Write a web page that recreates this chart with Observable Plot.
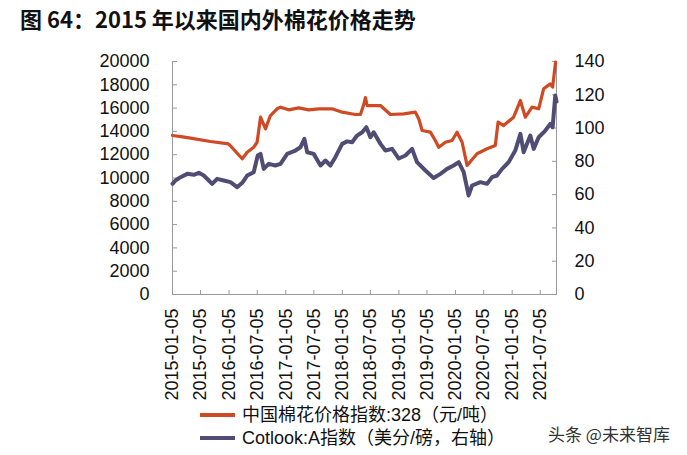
<!DOCTYPE html>
<html><head><meta charset="utf-8">
<script src="https://cdn.jsdelivr.net/npm/d3@7"></script>
<script src="https://cdn.jsdelivr.net/npm/@observablehq/plot@0.6"></script>
<style>
body{margin:0;width:687px;height:455px;position:relative;background:#fff;overflow:hidden;font-family:"Liberation Sans","Noto Sans CJK SC",sans-serif;}
#title{position:absolute;left:20px;top:2px;font-weight:bold;font-size:22px;font-family:"Noto Sans CJK SC",sans-serif;color:#111;white-space:nowrap}
#chart{position:absolute;left:0;top:40px}
.leg{position:absolute;left:200px;font-size:18px;color:#111;display:flex;align-items:center;white-space:nowrap;line-height:22px}
.sw{width:35px;height:3.5px;margin-right:7px}
#wm{position:absolute;left:548px;top:421px;font-size:17px;font-family:"Noto Sans CJK SC",sans-serif;color:#333;white-space:nowrap}
</style></head>
<body>
<div id="title">图 64：2015 年以来国内外棉花价格走势</div>
<div id="chart"></div>
<div class="leg" style="top:404px"><div class="sw" style="background:#CF4A23"></div><span>中国棉花价格指数:328（元/吨）</span></div>
<div class="leg" style="top:427px"><div class="sw" style="background:#514C74"></div><span>Cotlook:A指数（美分/磅，右轴）</span></div>
<div id="wm">头条 @未来智库</div>
<script>
const chinaDates = ["2015-01-05","2015-03-01","2015-05-01","2015-09-07","2016-01-01","2016-01-25","2016-03-30","2016-05-01","2016-06-12","2016-07-04","2016-07-26","2016-08-27","2016-09-28","2016-11-10","2016-12-02","2017-01-24","2017-03-30","2017-06-02","2017-08-06","2017-10-31","2018-01-04","2018-03-30","2018-05-02","2018-05-23","2018-06-03","2018-06-14","2018-09-08","2018-11-11","2019-02-05","2019-04-21","2019-05-13","2019-06-04","2019-07-27","2019-08-28","2019-09-19","2019-11-01","2019-12-14","2020-01-15","2020-02-17","2020-03-20","2020-05-23","2020-07-27","2020-09-18","2020-10-06","2020-11-11","2021-01-14","2021-02-27","2021-03-31","2021-05-13","2021-06-25","2021-07-27","2021-09-08","2021-09-23","2021-10-12"];
const chinaValues = [13650,13550,13420,13130,12930,12600,11650,12210,12640,13070,15220,14220,15360,15940,16080,15850,16020,15850,15940,15940,15650,15450,15450,16300,16900,16220,16220,15450,15510,15650,15080,14080,13940,13220,12640,13070,13220,13930,13070,11070,12080,12510,12790,14790,14500,15220,16650,15220,16080,15940,17660,18080,17800,19950];

const cotlookDates = ["2015-01-05","2015-01-24","2015-02-26","2015-04-10","2015-05-22","2015-06-24","2015-07-26","2015-09-18","2015-10-20","2015-12-02","2016-01-14","2016-02-26","2016-03-30","2016-05-01","2016-06-12","2016-07-08","2016-07-26","2016-08-16","2016-09-17","2016-10-30","2016-12-02","2017-01-14","2017-03-08","2017-04-10","2017-05-05","2017-05-23","2017-07-04","2017-08-17","2017-09-18","2017-10-20","2017-11-21","2018-01-04","2018-02-05","2018-03-09","2018-04-10","2018-05-13","2018-06-09","2018-07-05","2018-07-26","2018-09-08","2018-10-10","2018-11-22","2019-01-04","2019-02-16","2019-03-31","2019-05-02","2019-06-25","2019-08-17","2019-09-30","2019-11-12","2019-12-24","2020-01-26","2020-02-27","2020-03-30","2020-04-21","2020-06-14","2020-07-27","2020-08-28","2020-09-29","2020-11-01","2020-12-13","2021-01-25","2021-02-27","2021-03-20","2021-05-02","2021-05-24","2021-06-25","2021-08-07","2021-09-08","2021-09-23","2021-10-10","2021-10-18"];
const cotlookValues = [66.5,68.5,70.5,72.5,71.9,73.1,71.5,66.5,69.5,68.5,67.5,64.5,67.1,71.5,73.5,83.5,84.5,75.5,78.5,77.5,78.5,84.5,86.5,88.5,93.5,85.5,84.5,77.5,80.5,77.5,82.5,90.5,92,91.5,95.5,97.5,100.5,94.5,97.5,90.5,86.5,87.5,81.7,83.5,87.5,79.5,74.5,70,72.5,75.5,77.5,79.5,73.5,59.5,65.5,67.5,66.5,70.5,71.5,75.5,79.5,86.5,96.5,85.5,95.5,87.5,94.5,98.5,102.5,100.5,119.5,116];

const xTickLabels = ["2015-01-05","2015-07-05","2016-01-05","2016-07-05","2017-01-05","2017-07-05","2018-01-05","2018-07-05","2019-01-05","2019-07-05","2020-01-05","2020-07-05","2021-01-05","2021-07-05"];
const leftTicks = [0,2000,4000,6000,8000,10000,12000,14000,16000,18000,20000];
const rightTicks = [0,20,40,60,80,100,120,140];

const parse = d3.utcParse("%Y-%m-%d");
const fmt = d3.utcFormat("%Y-%m-%d");
const china = chinaDates.map((d,i)=>({date:parse(d), value:chinaValues[i]}));
const cotlook = cotlookDates.map((d,i)=>({date:parse(d), value:cotlookValues[i]}));
const start = parse("2015-01-05"), end = parse("2021-10-18");
const k = 20000/140;

const chart = Plot.plot({
  width:687, height:365,
  marginTop:21, marginBottom:111, marginLeft:172, marginRight:131,
  style:{fontFamily:"Liberation Sans, Arial, sans-serif", fontSize:"18px", color:"#111", background:"transparent"},
  x:{type:"utc", domain:[start,end]},
  y:{domain:[0,20000]},
  marks:[
    Plot.axisY({anchor:"left", ticks:leftTicks, tickSize:-5, tickPadding:28, tickFormat:d=>String(d), label:null, stroke:"#999", fill:"#111"}),
    Plot.axisY({anchor:"right", ticks:rightTicks.map(v=>v*k), tickSize:-5, tickPadding:23, tickFormat:d=>String(Math.round(d/k)), label:null, stroke:"#999", fill:"#111"}),
    Plot.axisX({ticks:xTickLabels.map(parse), tickFormat:fmt, tickRotate:-90, tickSize:-4, tickPadding:18, label:null, stroke:"#999", fill:"#111"}),
    Plot.ruleX([start,end],{stroke:"#999"}),
    Plot.ruleY([0],{stroke:"#999"}),
    Plot.line(china,{x:"date", y:"value", stroke:"#CF4A23", strokeWidth:3.2}),
    Plot.line(cotlook,{x:"date", y:d=>d.value*k, stroke:"#514C74", strokeWidth:4})
  ]
});
document.getElementById("chart").appendChild(chart);
</script>
</body></html>
